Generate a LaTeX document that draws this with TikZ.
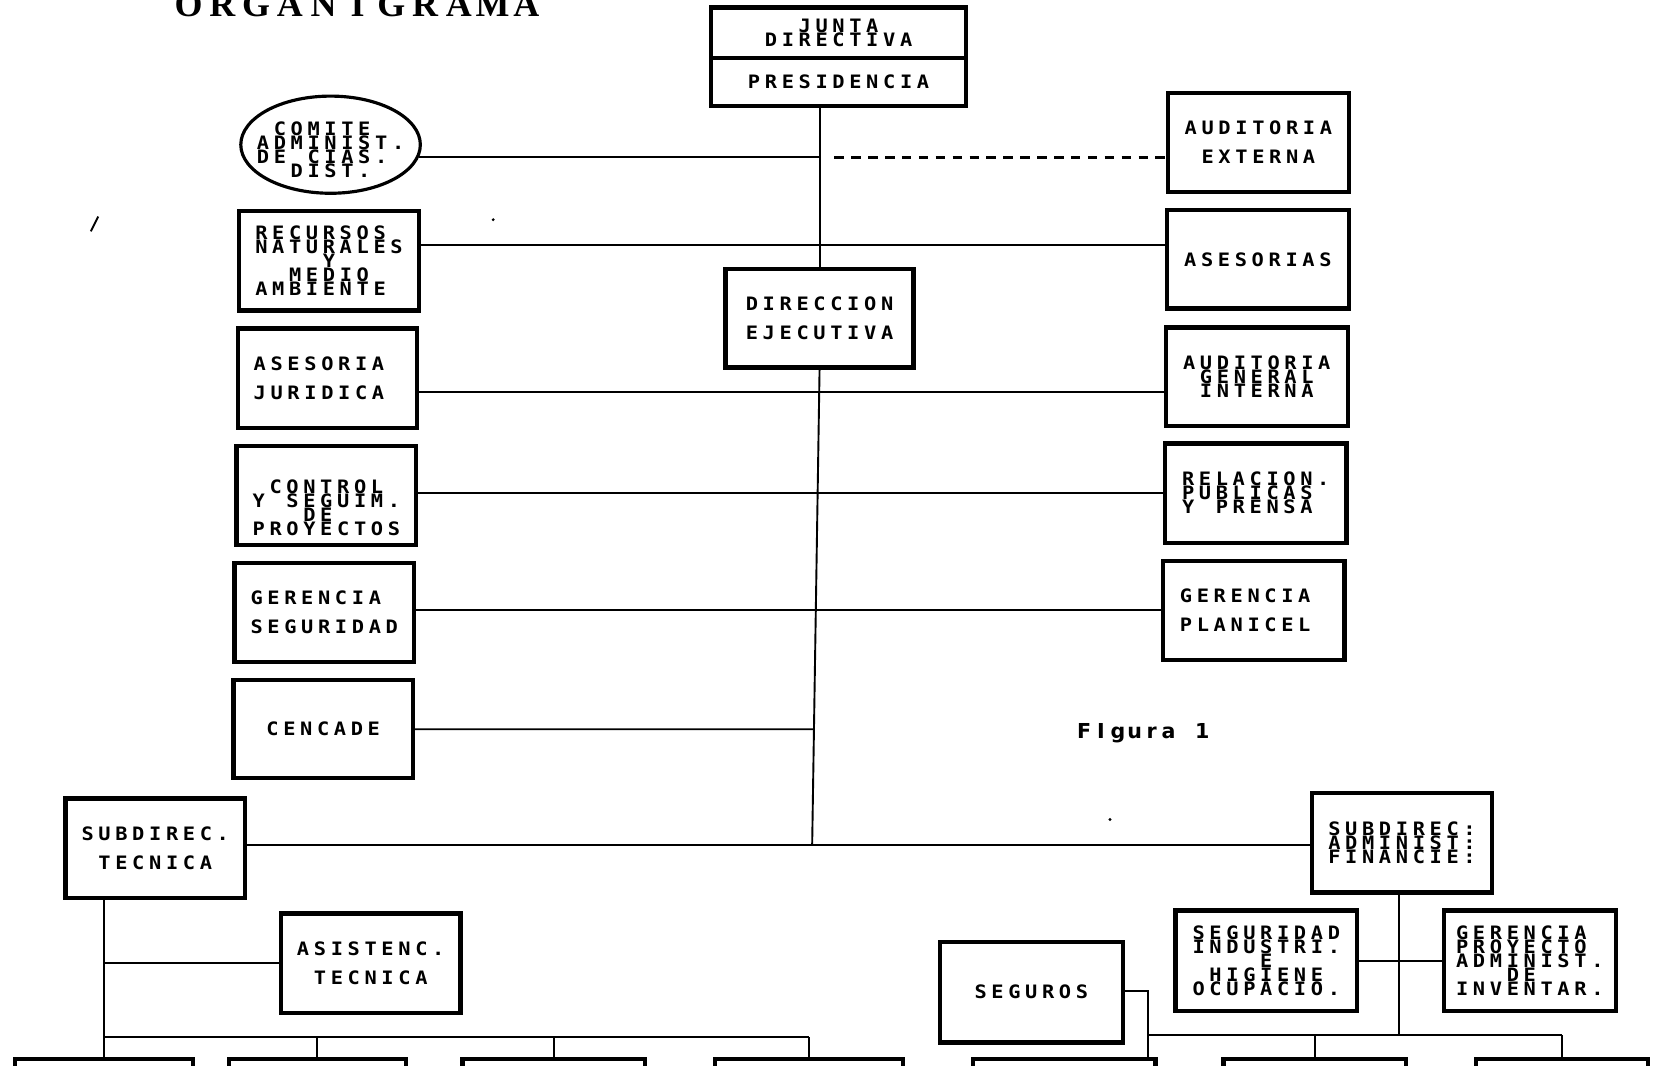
\documentclass[tikz,border=0pt]{standalone}
\usepackage{fontspec}
\usetikzlibrary{shapes.geometric,calc}
\newfontfamily\plotfont[FakeStretch=1.1]{DejaVu Sans Mono}
\newfontfamily\titlefont{Liberation Serif}
\newfontfamily\figfont{DejaVu Sans}
\newlength\cw
\setlength\cw{16pt}
\makeatletter
\newcommand\cells[1]{\cells@i#1\cells@end}
\def\cells@end{\cells@end@}
\def\cells@i#1{\ifx#1\cells@end\else\makebox[\cw][c]{#1}\expandafter\cells@i\fi}
\makeatother
\newcommand\pf{\plotfont\bfseries\fontsize{17.5}{27.5}\selectfont}
\newcommand\pft{\plotfont\bfseries\fontsize{17.5}{13.3}\selectfont\lineskiplimit=-100pt\lineskip=0pt}
\newcommand\titlef{\titlefont\bfseries\fontsize{34}{34}\selectfont\setlength\cw{32pt}}
\newcommand\figf{\figfont\bfseries\fontsize{19.5}{19.5}\selectfont}
\tikzset{
  box/.style={draw, line width=4pt, rectangle, inner sep=0pt, text width=144pt, align=left, font=\pf, minimum width=171pt, minimum height=94pt},
  tbox/.style={box, font=\pft},
  bbox/.style={draw, line width=4pt, rectangle, inner sep=0pt, minimum height=60pt},
  conn/.style={line width=1.8pt},
  dashline/.style={line width=2.2pt, dash pattern=on 9pt off 7pt},
}
\begin{document}
\begin{tikzpicture}[x=1pt,y=-1pt]
\fill[white] (0,0) rectangle (1568,1009);
\useasboundingbox (0,0) rectangle (1568,1009);

% title
\node[font=\titlef, anchor=base, inner sep=0pt] (title) at (338.5,16) {\cells{ORGANIGRAMA}};

% top
\node[tbox, minimum width=242pt, minimum height=48pt] (junta) at (794,31) {\cells{~~JUNTA}\\\cells{DIRECTIVA}};
\node[box, minimum width=242pt, minimum height=45pt, text width=176pt] (pres) at (794,77.5) {\cells{PRESIDENCIA}};
\node[box, minimum width=178pt, minimum height=93pt] (dir) at (776,301.5) {\cells{DIRECCION}\\\cells{EJECUTIVA}};

% left column
\node[ellipse, draw, line width=3pt, minimum width=170pt, minimum height=92pt, inner sep=0pt] (comite) at (313,137) {};
\node[tbox, draw=none, minimum width=0pt, minimum height=0pt] (comitetxt) at (313,142) {\cells{~COMITE}\\\cells{ADMINIST.}\\\cells{DE~CIAS.}\\\cells{~~DIST.}};
\node[tbox] (recursos) at (311.5,247) {\cells{RECURSOS}\\\cells{NATURALES}\\\cells{~~~~Y}\\\cells{~~MEDIO}\\\cells{AMBIENTE}};
\node[box, minimum width=170pt] (asjur) at (310,358) {\cells{ASESORIA}\\\cells{JURIDICA}};
\node[tbox, minimum width=170pt, text depth=16pt] (control) at (309,469) {\cells{~CONTROL}\\\cells{Y~SEGUIM.}\\\cells{~~~DE}\\\cells{PROYECTOS}};
\node[box, minimum width=170pt] (gerseg) at (307,580) {\cells{GERENCIA}\\\cells{SEGURIDAD}};
\node[box, minimum width=170pt, minimum height=93pt] (cencade) at (306,690.5) {\cells{~CENCADE}};

% right column
\node[box] (audext) at (1191.5,135) {\cells{AUDITORIA}\\\cells{~EXTERNA}};
\node[box, minimum width=172pt, minimum height=93pt] (asesorias) at (1191,245.5) {\cells{ASESORIAS}};
\node[tbox, minimum width=172pt, minimum height=93pt] (audgen) at (1190,356.5) {\cells{AUDITORIA}\\\cells{~GENERAL}\\\cells{~INTERNA}};
\node[tbox, minimum width=172pt] (relac) at (1189,467) {\cells{RELACION.}\\\cells{PUBLICAS}\\\cells{Y~PRENSA}};
\node[box, minimum width=172pt] (gerplan) at (1187,578) {\cells{GERENCIA}\\\cells{PLANICEL}};

\node[font=\figf, inner sep=0pt] (fig) at (1082.5,694) {\cells{FIgura~1}};

% lower level
\node[box, minimum width=170pt] (subt) at (147,803) {\cells{SUBDIREC.}\\\cells{~TECNICA}};
\node[box, minimum width=170pt] (asist) at (351,912) {\cells{ASISTENC.}\\\cells{~TECNICA}};
\node[tbox] (subadm) at (1327.5,798) {\cells{SUBDIREC:}\\\cells{ADMINIST:}\\\cells{FINANCIE:}};
\node[tbox, minimum width=172pt, minimum height=95pt] (segind) at (1199,909.5) {\cells{SEGURIDAD}\\\cells{INDUSTRI.}\\\cells{~~~~E}\\\cells{~HIGIENE}\\\cells{OCUPACIO.}};
\node[tbox, minimum width=163pt, minimum height=95pt] (gerproy) at (1448.5,909.5) {\cells{GERENCIA}\\\cells{PROYECTO}\\\cells{ADMINIST.}\\\cells{~~~DE}\\\cells{INVENTAR.}};
\node[box, minimum width=173pt, minimum height=95pt] (seguros) at (976.5,939.5) {\cells{~SEGUROS}};

% bottom (cut) boxes
\node[bbox, minimum width=169pt] (b1) at (98.5,1033) {};
\node[bbox, minimum width=168pt] (b2) at (300.5,1033) {};
\node[bbox, minimum width=173pt] (b3) at (524.5,1033) {};
\node[bbox, minimum width=178pt] (b4) at (766,1033) {};
\node[bbox, minimum width=173pt] (bA) at (1007.5,1033) {};
\node[bbox, minimum width=173pt] (bB) at (1245,1033) {};
\node[bbox, minimum width=163pt] (bC) at (1479,1033) {};

% connectors
\coordinate (j) at (769,800);
\draw[conn] (dir.north |- pres.south) -- (dir.north);
\draw[conn] (dir.south) -- (j);
\draw[conn] (comite.-8.3) -- (comite.-8.3 -| dir.north);
\coordinate (d0) at (790,149);
\draw[dashline] (d0) -- (audext.west |- d0);
\draw[conn] (recursos.east |- 0,232) -- (asesorias.west |- 0,232);
\draw[conn] (asjur.east |- 0,371) -- (audgen.west |- 0,371);
\draw[conn] (control.east |- 0,467) -- (relac.west |- 0,467);
\draw[conn] (gerseg.east |- 0,578) -- (gerplan.west |- 0,578);
\draw[conn] (cencade.east) -- (intersection of dir.south--j and cencade.east--cencade.west);
\draw[conn] (subt.east |- j) -- (subadm.west |- j);

\coordinate (lbus) at (0,982);
\draw[conn] (subt.south -| b1.north) -- (b1.north);
\draw[conn] (asist.west) -- (asist.west -| b1.north);
\draw[conn] (b1.north |- lbus) -- (b4.north |- lbus);
\foreach \b in {b2,b3,b4} \draw[conn] (\b.north |- lbus) -- (\b.north);

\coordinate (tr) at (1325,980);
\coordinate (sk) at (1087,938);
\draw[conn] (tr |- subadm.south) -- (tr);
\draw[conn] (segind.east |- 0,910) -- (gerproy.west |- 0,910);
\draw[conn] (seguros.east |- sk) -- (sk) -- (sk |- bA.north);
\draw[conn] (sk |- tr) -- (bC.north |- tr);
\foreach \b in {bB,bC} \draw[conn] (\b.north |- tr) -- (\b.north);

% stray marks
\draw[line width=1.8pt] (86,219) -- (93,205);
\fill (467,208) circle (1.5pt);
\fill (1051,776) circle (1.5pt);
\end{tikzpicture}
\end{document}
